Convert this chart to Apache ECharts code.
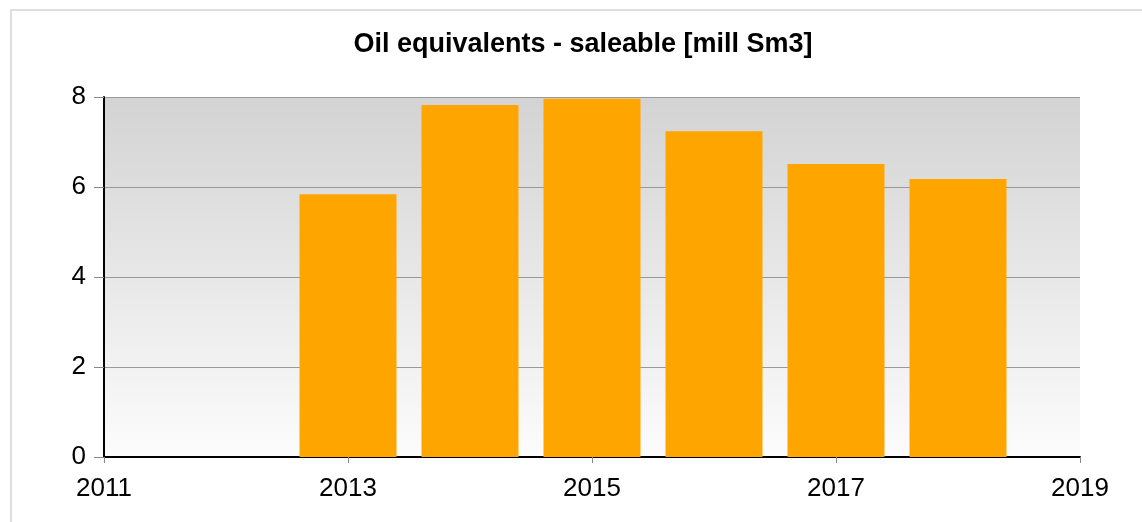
<!DOCTYPE html>
<html>
<head>
<meta charset="utf-8">
<script src="https://cdn.jsdelivr.net/npm/echarts@6/dist/echarts.min.js"></script>
<style>
  html, body { margin: 0; padding: 0; background: #fff; }
  #frame { position: absolute; left: 10px; top: 9px; width: 1300px; height: 700px; border-left: 2px solid #dedede; border-top: 2px solid #dedede; }
  #chart { position: absolute; left: 0; top: 0; width: 1142px; height: 522px; }
</style>
</head>
<body>
<div id="frame"></div>
<div id="chart"></div>
<script>
const title = 'Oil equivalents - saleable [mill Sm3]';
const years = [2013, 2014, 2015, 2016, 2017, 2018];
const values = [5.84, 7.82, 7.96, 7.24, 6.51, 6.18];
const xMin = 2011, xMax = 2019, xInterval = 2;
const yMin = 0, yMax = 8, yInterval = 2;

const chart = echarts.init(document.getElementById('chart'), null, { renderer: 'canvas' });
const font = 'Liberation Sans, Arial, sans-serif';
chart.setOption({
  animation: false,
  title: {
    text: title,
    left: 578,
    top: 26,
    textAlign: 'center',
    textStyle: { fontFamily: font, fontWeight: 'bold', fontSize: 27, color: '#000' }
  },
  grid: {
    left: 104, right: 62, top: 97, bottom: 65,
    show: true, borderWidth: 0,
    backgroundColor: new echarts.graphic.LinearGradient(0, 0, 0, 1, [
      { offset: 0, color: '#d3d3d3' },
      { offset: 1, color: '#fcfcfc' }
    ])
  },
  xAxis: {
    type: 'value', min: xMin, max: xMax, interval: xInterval,
    axisLine: { lineStyle: { color: '#000', width: 2 } },
    axisTick: { show: true, length: 6, lineStyle: { color: '#888', width: 1 } },
    axisLabel: { margin: 19, fontFamily: font, fontSize: 26, color: '#000', formatter: v => String(v) },
    splitLine: { show: false }
  },
  yAxis: {
    type: 'value', min: yMin, max: yMax, interval: yInterval,
    axisLine: { show: true, lineStyle: { color: '#000', width: 2 } },
    axisTick: { show: true, length: 10, lineStyle: { color: '#888', width: 1 } },
    axisLabel: { margin: 18, fontFamily: font, fontSize: 26, color: '#000' },
    splitLine: { show: true, lineStyle: { color: '#999', width: 1 } }
  },
  series: [{
    type: 'bar',
    data: years.map((y, i) => [y, values[i]]),
    barWidth: 97,
    itemStyle: { color: '#FFA500' }
  }]
});
</script>
</body>
</html>
